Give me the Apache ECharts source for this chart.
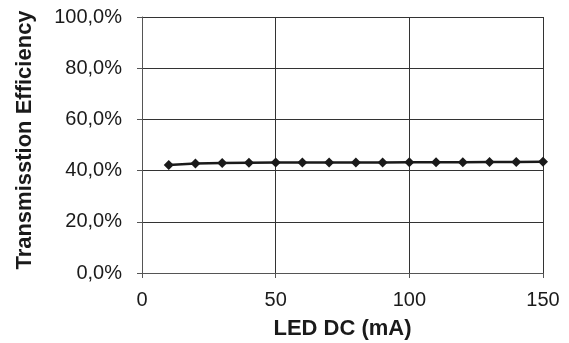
<!DOCTYPE html>
<html>
<head>
<meta charset="utf-8">
<script src="https://cdn.jsdelivr.net/npm/echarts@6/dist/echarts.min.js"></script>
<style>
  html, body { margin: 0; padding: 0; background: #fff; }
  #chart { width: 569px; height: 343px; }
</style>
</head>
<body>
<div id="chart"></div>
<script>
// LED current (mA)
var currents = [10, 20, 30, 40, 50, 60, 70, 80, 90, 100, 110, 120, 130, 140, 150];
// transmission efficiency (%)
var efficiency = [42.2, 42.8, 43.0, 43.1, 43.2, 43.2, 43.2, 43.2, 43.2, 43.3, 43.3, 43.3, 43.4, 43.4, 43.5];

var points = [];
for (var i = 0; i < currents.length; i++) {
    points.push([currents[i], efficiency[i]]);
}

var chart = echarts.init(document.getElementById('chart'));
var font = 'Liberation Sans, Arial, sans-serif';

var option = {
    animation: false,
    grid: { left: 142, right: 26, top: 17, bottom: 70, outerBoundsMode: 'none', containLabel: false },
    xAxis: {
        type: 'value',
        min: 0,
        max: 150,
        interval: 50,
        name: 'LED DC (mA)',
        nameLocation: 'middle',
        nameGap: 45,
        nameTextStyle: { fontFamily: font, fontSize: 22, fontWeight: 'bold', color: '#1a1a1a' },
        axisLine: { lineStyle: { color: '#555', width: 1 } },
        axisTick: { show: true, length: 5, lineStyle: { color: '#555' } },
        axisLabel: { fontFamily: font, fontSize: 20, color: '#1a1a1a', margin: 17 },
        splitLine: { show: true, lineStyle: { color: '#333', width: 1 } }
    },
    yAxis: {
        type: 'value',
        min: 0,
        max: 100,
        interval: 20,
        name: 'Transmisstion Efficiency',
        nameLocation: 'middle',
        nameGap: 106,
        nameTextStyle: { fontFamily: font, fontSize: 22, fontWeight: 'bold', color: '#1a1a1a', padding: [0, 0, 0, 10] },
        axisLine: { show: true, lineStyle: { color: '#555', width: 1 } },
        axisTick: { show: true, length: 5, lineStyle: { color: '#555' } },
        axisLabel: {
            fontFamily: font, fontSize: 20, color: '#1a1a1a', margin: 20,
            formatter: function (v) { return v.toFixed(1).replace('.', ',') + '%'; }
        },
        splitLine: { show: true, lineStyle: { color: '#333', width: 1 } }
    },
    series: [{
        type: 'line',
        data: points,
        symbol: 'diamond',
        symbolSize: 10,
        lineStyle: { color: '#1a1a1a', width: 2.5 },
        itemStyle: { color: '#1a1a1a' }
    }]
};
chart.setOption(option);
</script>
</body>
</html>
